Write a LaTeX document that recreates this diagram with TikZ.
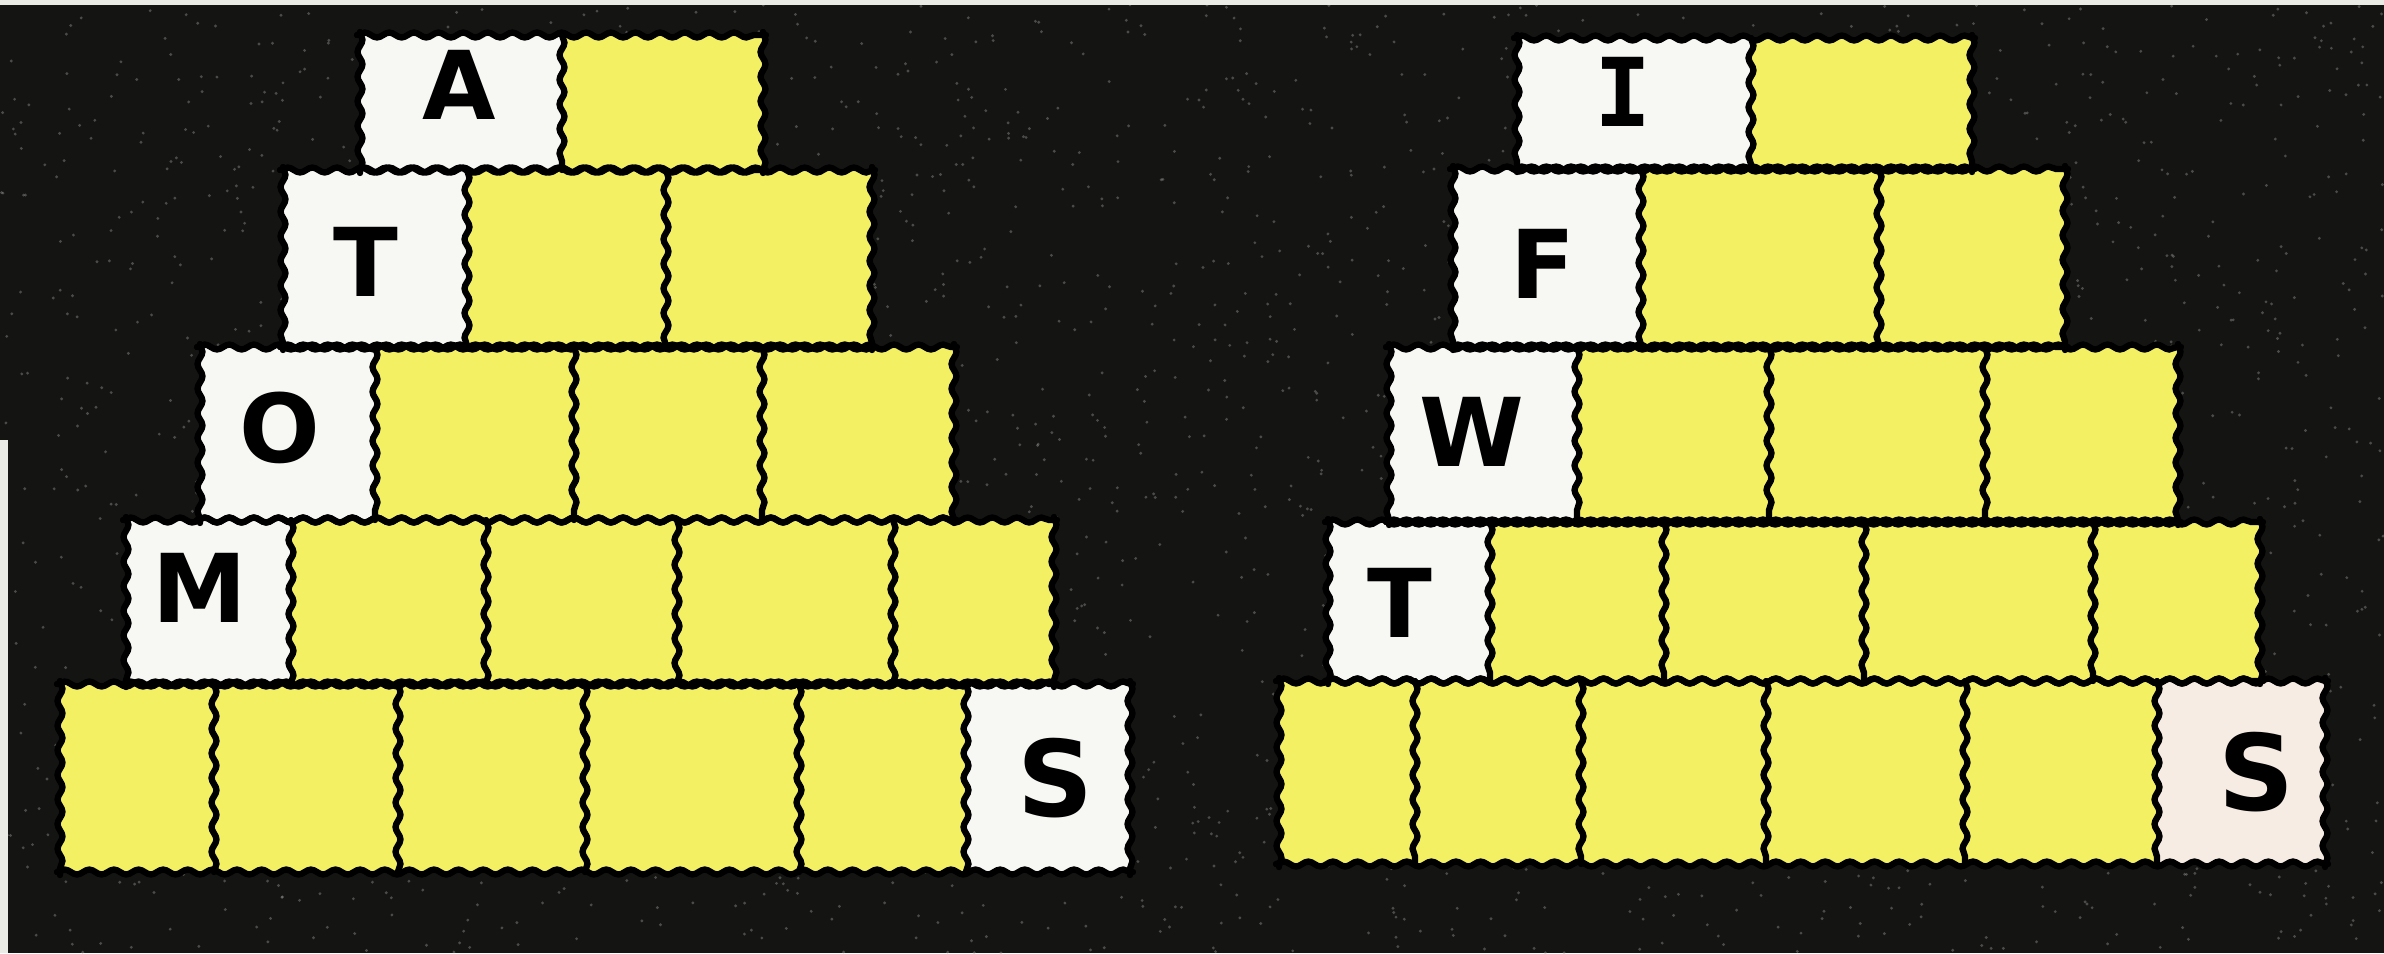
\documentclass[tikz,border=0pt]{standalone}
\usepackage{fontspec}
\usepackage{xcolor}
\usepackage{tikz}
\usetikzlibrary{decorations.pathmorphing}

\newfontfamily\tilefont{DejaVu Sans}
\newfontfamily\tilemono{DejaVu Sans Mono}

\definecolor{bgblack}{RGB}{20,20,18}
\definecolor{tileyellow}{RGB}{243,240,100}
\definecolor{tilewhite}{RGB}{247,247,243}
\definecolor{tilepink}{RGB}{247,236,228}
\definecolor{paper}{RGB}{235,235,230}

\begin{document}
\begin{tikzpicture}[
  x=0.01cm, y=-0.01cm,
  wavy/.style={draw=black, line width=1.8pt, line cap=round,
    decorate, decoration={snake, amplitude=0.7pt, segment length=7pt}},
  letter/.style={inner sep=0pt, text=black,
    font=\tilefont\bfseries\fontsize{27}{27}\selectfont},
  bigletter/.style={letter, font=\tilefont\bfseries\fontsize{30}{30}\selectfont},
]

\useasboundingbox (0,0) rectangle (2384,953);

%% Background with grain
\fill[bgblack] (0,0) rectangle (2384,953);
\pgfmathsetseed{17}
\foreach \i in {1,...,2600}{
  \fill[gray!75, opacity=0.4] ({rnd*2384},{rnd*953}) circle (0.45pt);
}
\fill[paper] (0,0) rectangle (2384,5);
\fill[paper] (0,440) rectangle (8,953);

%% ---------------- Left pyramid ----------------
%% Yellow rows
\fill[tileyellow] (360,35)  rectangle (763,170);
\fill[tileyellow] (283,170) rectangle (872,347);
\fill[tileyellow] (200,347) rectangle (954,520);
\fill[tileyellow] (126,520) rectangle (1054,684);
\fill[tileyellow] (60,684)  rectangle (1130,872);

%% White letter tiles
\fill[tilewhite] (360,35)  rectangle (562,170);
\fill[tilewhite] (283,170) rectangle (467,347);
\fill[tilewhite] (200,347) rectangle (375,520);
\fill[tilewhite] (126,520) rectangle (291,684);
\fill[tilewhite] (966,684) rectangle (1130,872);

%% Row outlines (each side on its own)
\foreach \xa/\xb/\ya/\yb in {360/763/35/170, 283/872/170/347,
    200/954/347/520, 126/1054/520/684, 60/1130/684/872}{
  \draw[wavy] (\xa-3,\ya) -- (\xb+3,\ya);
  \draw[wavy] (\xa-3,\yb) -- (\xb+3,\yb);
  \draw[wavy] (\xa,\ya-3) -- (\xa,\yb+3);
  \draw[wavy] (\xb,\ya-3) -- (\xb,\yb+3);
}

%% Dividers
\draw[wavy] (562,35) -- (562,170);
\foreach \x in {467,666}{ \draw[wavy] (\x,170) -- (\x,347); }
\foreach \x in {375,574,762}{ \draw[wavy] (\x,347) -- (\x,520); }
\foreach \x in {291,486,677,893}{ \draw[wavy] (\x,520) -- (\x,684); }
\foreach \x in {214,398,585,799,966}{ \draw[wavy] (\x,684) -- (\x,872); }

%% Letters
\node[letter] (lA) at (459,85)   {A};
\node[letter] (lT) at (366,262)  {T};
\node[letter] (lO) at (280,428)  {O};
\node[letter] (lM) at (200,588)  {M};
\node[bigletter] (lS) at (1055,778) {S};

%% ---------------- Right pyramid ----------------
%% Yellow rows
\fill[tileyellow] (1517,38)  rectangle (1972,169);
\fill[tileyellow] (1453,169) rectangle (2065,347);
\fill[tileyellow] (1389,347) rectangle (2178,522);
\fill[tileyellow] (1328,522) rectangle (2260,681);
\fill[tileyellow] (1279,681) rectangle (2325,864);

%% White letter tiles
\fill[tilewhite] (1517,38)  rectangle (1751,169);
\fill[tilewhite] (1453,169) rectangle (1641,347);
\fill[tilewhite] (1389,347) rectangle (1577,522);
\fill[tilewhite] (1328,522) rectangle (1490,681);
\fill[tilepink]  (2157,681) rectangle (2325,864);

%% Row outlines (each side on its own)
\foreach \xa/\xb/\ya/\yb in {1517/1972/38/169, 1453/2065/169/347,
    1389/2178/347/522, 1328/2260/522/681, 1279/2325/681/864}{
  \draw[wavy] (\xa-3,\ya) -- (\xb+3,\ya);
  \draw[wavy] (\xa-3,\yb) -- (\xb+3,\yb);
  \draw[wavy] (\xa,\ya-3) -- (\xa,\yb+3);
  \draw[wavy] (\xb,\ya-3) -- (\xb,\yb+3);
}

%% Dividers
\draw[wavy] (1751,38) -- (1751,169);
\foreach \x in {1641,1879}{ \draw[wavy] (\x,169) -- (\x,347); }
\foreach \x in {1577,1769,1985}{ \draw[wavy] (\x,347) -- (\x,522); }
\foreach \x in {1490,1664,1864,2093}{ \draw[wavy] (\x,522) -- (\x,681); }
\foreach \x in {1415,1581,1766,1965,2157}{ \draw[wavy] (\x,681) -- (\x,864); }

%% Letters
\node[letter, font=\tilemono\bfseries\fontsize{27}{27}\selectfont]
  (rI) at (1623,92) {I};
\node[letter] (rF) at (1543,264) {F};
\node[letter] (rW) at (1472,432) {W};
\node[letter] (rT) at (1400,603) {T};
\node[bigletter] (rS) at (2256,772) {S};

\end{tikzpicture}
\end{document}
